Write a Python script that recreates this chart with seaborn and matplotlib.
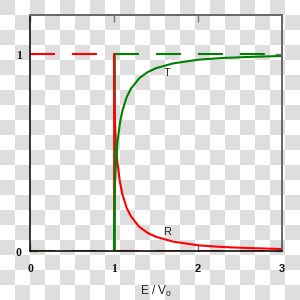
import numpy as np
import pandas as pd
import matplotlib
matplotlib.use("Agg")
import matplotlib.pyplot as plt
import seaborn as sns

# ---- data ----
E_vals = [1.0, 1.00005, 1.0001, 1.0005, 1.002, 1.005, 1.01, 1.02, 1.04, 1.07,
          1.1, 1.15, 1.2, 1.3, 1.4, 1.5, 1.7, 2.0, 2.3, 2.6, 3.0]
R_vals = [1.0, 0.972, 0.961, 0.914, 0.836, 0.754, 0.671, 0.569, 0.452, 0.351,
          0.288, 0.220, 0.177, 0.123, 0.092, 0.072, 0.048, 0.029, 0.020, 0.015, 0.010]
T_vals = [0.0, 0.028, 0.039, 0.086, 0.164, 0.246, 0.329, 0.431, 0.548, 0.649,
          0.712, 0.780, 0.823, 0.877, 0.908, 0.928, 0.952, 0.971, 0.980, 0.985, 0.990]

# classical step (dashed) values
cl_below_x = [0, 1]
cl_above_x = [1, 3]
cl_R_below = [1, 1]
cl_T_below = [0, 0]
cl_R_above = [0, 0]
cl_T_above = [1, 1]
step_x = [1, 1]
step_y = [0, 1]

x_ticks = [0, 1, 2, 3]
y_ticks = [0, 1]
x_label = "E / V$_{\\mathregular{0}}$"
curve_labels = {"T": (1.63, 0.905), "R": (1.63, 0.095)}

sns.set_theme(style="white")
plt.rcParams["lines.scale_dashes"] = False

fig = plt.figure(figsize=(3, 3), dpi=100)
fig.patch.set_alpha(0)

# checkerboard (transparency pattern of the reference)
bg = fig.add_axes([0, 0, 1, 1], zorder=-5)
n = 20
ii, jj = np.indices((n, n))
checker = np.where((ii + jj) % 2 == 0, 0.87, 1.0)
bg.imshow(checker, cmap="gray", vmin=0, vmax=1, extent=[0, 300, 300, 0],
          interpolation="nearest", aspect="auto")
bg.set_axis_off()

ax = fig.add_axes([30 / 300, 49 / 300, 252 / 300, 236 / 300])
ax.set_facecolor("none")

RED = "#ff0000"
GREEN = "#008000"
dash = (0, (18, 12.2))

ax.plot(cl_below_x, cl_R_below, color=RED, lw=1.5, linestyle=dash)
ax.plot(cl_above_x, cl_R_above, color=RED, lw=1.5, linestyle=dash)
ax.plot(cl_below_x, cl_T_below, color=GREEN, lw=1.5, linestyle=dash)
ax.plot(cl_above_x, cl_T_above, color=GREEN, lw=1.5, linestyle=dash)
ax.plot([s - 0.004 for s in step_x], step_y, color=RED, lw=1.3)
ax.plot([s + 0.008 for s in step_x], step_y, color=GREEN, lw=1.2)

df = pd.DataFrame({"E": E_vals, "R": R_vals, "T": T_vals})
sns.lineplot(data=df, x="E", y="R", color=RED, lw=1.5, ax=ax,
             sort=False, estimator=None)
sns.lineplot(data=df, x="E", y="T", color=GREEN, lw=1.5, ax=ax,
             sort=False, estimator=None)

for name, (xx, yy) in curve_labels.items():
    ax.text(xx, yy, name, ha="center", va="center", fontsize=8,
            family="Liberation Sans", color="#222222")

ax.set_xlim(0, 3)
ax.set_ylim(0, 1.198)
ax.set_xticks(x_ticks)
ax.set_yticks(y_ticks)
ax.set_xticklabels([str(v) for v in x_ticks])
ax.set_yticklabels([str(v) for v in y_ticks])
ax.tick_params(direction="in", length=5, width=1, color="#777777",
               top=True, right=True, bottom=True, left=True)
ax.tick_params(axis="x", pad=9)
ax.tick_params(axis="y", pad=6)
ax.set_xlabel(x_label, fontsize=8.5, family="Liberation Sans", labelpad=6,
              color="#222222")
ax.set_ylabel("")

for lbl in ax.get_xticklabels() + ax.get_yticklabels():
    if lbl.get_text() in ("0", "1"):
        lbl.set_family("Liberation Serif")
        lbl.set_fontweight("bold")
        lbl.set_fontsize(8.5)
    else:
        lbl.set_family("Liberation Sans")
        lbl.set_fontweight("bold")
        lbl.set_fontsize(8)
    lbl.set_color("#111111")

for side in ("left", "bottom"):
    ax.spines[side].set_color("#111111")
    ax.spines[side].set_linewidth(1.2)
for side in ("top", "right"):
    ax.spines[side].set_color("#666666")
    ax.spines[side].set_linewidth(1.4)
for s in ax.spines.values():
    s.set_visible(True)

fig.savefig("out.png", dpi=100)
